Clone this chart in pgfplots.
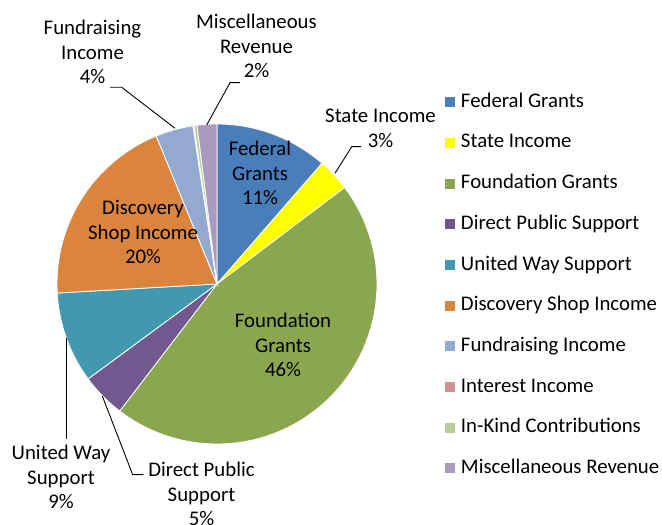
\documentclass[border=0pt]{standalone}
\usepackage{fontspec}
\setmainfont{Carlito}
\usepackage{pgfplots}
\usepackage{pgfplotstable}
\pgfplotsset{compat=1.18}
\definecolor{slice0}{HTML}{4A7EBB}
\definecolor{slice1}{HTML}{FFFF00}
\definecolor{slice2}{HTML}{8AA64E}
\definecolor{slice3}{HTML}{71588F}
\definecolor{slice4}{HTML}{4198AF}
\definecolor{slice5}{HTML}{DB843D}
\definecolor{slice6}{HTML}{93A9CF}
\definecolor{slice7}{HTML}{D19392}
\definecolor{slice8}{HTML}{B9CD96}
\definecolor{slice9}{HTML}{A99BBD}
\pgfplotstableread[col sep=comma]{
name,pct
Federal Grants,11.4
State Income,3.3
Foundation Grants,45.7
Direct Public Support,4.5
United Way Support,9.2
Discovery Shop Income,19.7
Fundraising Income,3.8
Interest Income,0.1
In-Kind Contributions,0.3
Miscellaneous Revenue,2.0
}\piedata
\newcommand\lbl{\fontsize{20.8bp}{24.8bp}\selectfont}
\begin{document}
\begin{tikzpicture}
\begin{axis}[x=1bp,y=1bp,xmin=0,xmax=662,ymin=0,ymax=525,
  hide axis,clip=false,
  legend style={draw=none,fill=none,at={(0.6722,0.8229)},anchor=north west,
    inner sep=0pt,outer sep=0pt,row sep=22.4bp,column sep=6bp,
    font=\lbl,nodes={inner sep=0pt,text height=14.3bp,text depth=4bp}},
  legend cell align=left,
  legend image code/.code={\path[#1,draw=none] (0bp,-5bp) rectangle (10bp,5bp);}]
\pgfmathsetmacro\cum{0}
\pgfplotsforeachungrouped \i in {0,...,9}{
  \pgfplotstablegetelem{\i}{pct}\of\piedata
  \let\pc\pgfplotsretval
  \pgfplotstablegetelem{\i}{name}\of\piedata
  \let\nm\pgfplotsretval
  \pgfmathsetmacro\a{\cum*3.6}
  \pgfmathsetmacro\cum{\cum+\pc}
  \pgfmathsetmacro\b{\cum*3.6}
  \edef\temp{\noexpand\addplot[fill=slice\i,draw=white,line width=0.8bp,domain=\a:\b,samples=60]
    ({217+160*sin(x)},{241+160*cos(x)}) -- (axis cs:217,241) -- cycle;
    \noexpand\addlegendentry{\nm}}
  \temp
}
% leader lines
\addplot[black,line width=0.9bp,mark=none,forget plot] coordinates {(335,351.7) (351.7,378.3) (361,378.3)};
\addplot[black,line width=0.9bp,mark=none,forget plot] coordinates {(110,437.7) (121.7,437.7) (175,396.7)};
\addplot[black,line width=0.9bp,mark=none,forget plot] coordinates {(206.7,400) (230,442.3) (240,442.3)};
\addplot[black,line width=0.9bp,mark=none,forget plot] coordinates {(66.5,187) (66.5,86)};
\addplot[black,line width=0.9bp,mark=none,forget plot] coordinates {(102.3,129) (132.7,50.3) (143.3,50.3)};
% labels
\node[align=center,font=\lbl] at (axis cs:260,352) {Federal\\Grants\\11\%};
\node[align=center,font=\lbl] at (axis cs:143,293) {Discovery\\Shop Income\\20\%};
\node[align=center,font=\lbl] at (axis cs:283,180) {Foundation\\Grants\\46\%};
\node[align=center,font=\lbl] at (axis cs:380.5,396.5) {State Income\\3\%};
\node[align=center,font=\lbl] at (axis cs:92.5,473) {Fundraising\\Income\\4\%};
\node[align=center,font=\lbl] at (axis cs:256.5,479) {Miscellaneous\\Revenue\\2\%};
\node[align=center,font=\lbl] at (axis cs:61,48) {United Way\\Support\\9\%};
\node[align=center,font=\lbl] at (axis cs:201.5,31) {Direct Public\\Support\\5\%};
\end{axis}
\pgfresetboundingbox
\path (0,0) rectangle (662bp,525bp);
\end{tikzpicture}
\end{document}
